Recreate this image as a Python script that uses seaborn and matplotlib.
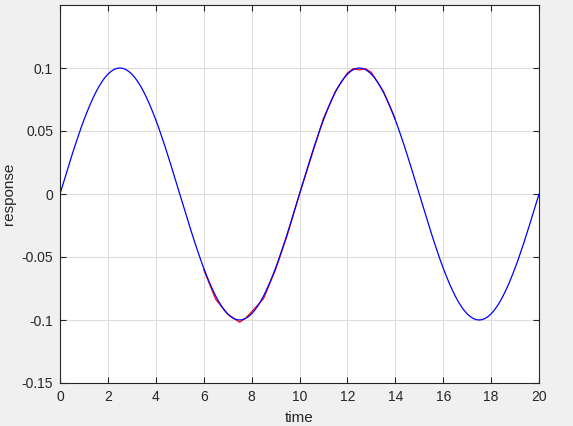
import matplotlib
matplotlib.use("Agg")
import matplotlib.pyplot as plt
import numpy as np
import pandas as pd
import seaborn as sns

# ── data ────────────────────────────────────────────────────────────────────
# blue trace, sampled every 0.125 time units from 0 to 20
t_fine = [i * 0.125 for i in range(161)]
y_blue = [
    # 0 .. 2.5
    0.0, 0.0078, 0.0156, 0.0233, 0.0309, 0.0383, 0.0454, 0.0523, 0.0588, 0.0649,
    0.0707, 0.0760, 0.0809, 0.0853, 0.0891, 0.0924, 0.0951, 0.0972, 0.0988, 0.0997,
    0.1,
    # 2.5 .. 5
    0.0997, 0.0988, 0.0972, 0.0951, 0.0924, 0.0891, 0.0853, 0.0809, 0.0760, 0.0707,
    0.0649, 0.0588, 0.0523, 0.0454, 0.0383, 0.0309, 0.0233, 0.0156, 0.0078, 0.0,
    # 5 .. 7.5
    -0.0078, -0.0156, -0.0233, -0.0309, -0.0383, -0.0454, -0.0523, -0.0588, -0.0649, -0.0707,
    -0.0760, -0.0809, -0.0853, -0.0891, -0.0924, -0.0951, -0.0972, -0.0988, -0.0997, -0.1,
    # 7.5 .. 10
    -0.0997, -0.0988, -0.0972, -0.0951, -0.0924, -0.0891, -0.0853, -0.0809, -0.0760, -0.0707,
    -0.0649, -0.0588, -0.0523, -0.0454, -0.0383, -0.0309, -0.0233, -0.0156, -0.0078, 0.0,
    # 10 .. 12.5
    0.0078, 0.0156, 0.0233, 0.0309, 0.0383, 0.0454, 0.0523, 0.0588, 0.0649, 0.0707,
    0.0760, 0.0809, 0.0853, 0.0891, 0.0924, 0.0951, 0.0972, 0.0988, 0.0997, 0.1,
    # 12.5 .. 15
    0.0997, 0.0988, 0.0972, 0.0951, 0.0924, 0.0891, 0.0853, 0.0809, 0.0760, 0.0707,
    0.0649, 0.0588, 0.0523, 0.0454, 0.0383, 0.0309, 0.0233, 0.0156, 0.0078, 0.0,
    # 15 .. 17.5
    -0.0078, -0.0156, -0.0233, -0.0309, -0.0383, -0.0454, -0.0523, -0.0588, -0.0649, -0.0707,
    -0.0760, -0.0809, -0.0853, -0.0891, -0.0924, -0.0951, -0.0972, -0.0988, -0.0997, -0.1,
    # 17.5 .. 20
    -0.0997, -0.0988, -0.0972, -0.0951, -0.0924, -0.0891, -0.0853, -0.0809, -0.0760, -0.0707,
    -0.0649, -0.0588, -0.0523, -0.0454, -0.0383, -0.0309, -0.0233, -0.0156, -0.0078, 0.0,
]

# red trace: only visible where it departs from the blue one (t = 6 .. 14)
t_red = [6.0, 6.5, 7.0, 7.25, 7.5, 7.75, 8.0, 8.5, 9.0, 9.5, 10.0,
         10.5, 11.0, 11.5, 12.0, 12.25, 12.5, 12.75, 13.0, 13.5, 14.0]
y_red = [-0.0600, -0.0835, -0.0955, -0.0985, -0.1018, -0.0985, -0.0935, -0.0830, -0.0600, -0.0320, 0.0,
         0.0300, 0.0600, 0.0815, 0.0960, 0.0995, 0.0985, 0.0995, 0.0965, 0.0815, 0.0595]

x_ticks = [0, 2, 4, 6, 8, 10, 12, 14, 16, 18, 20]
y_ticks = [-0.15, -0.1, -0.05, 0, 0.05, 0.1]
y_tick_labels = ["-0.15", "-0.1", "-0.05", "0", "0.05", "0.1"]

# ── plot ────────────────────────────────────────────────────────────────────
sns.set_style("white")
plt.rcParams["font.family"] = ["Liberation Sans", "DejaVu Sans"]

fig = plt.figure(figsize=(5.73, 4.26), dpi=100, facecolor="#f0f0f0")
ax = fig.add_axes([60 / 573, 43 / 426, 479 / 573, 378 / 426])
ax.set_facecolor("white")

sns.lineplot(x=t_red, y=y_red, color="red", linewidth=0.9, ax=ax)
sns.lineplot(x=t_fine, y=y_blue, color="blue", linewidth=0.9, ax=ax)

ax.set_xlim(0, 20)
ax.set_ylim(-0.15, 0.15)
ax.set_xticks(x_ticks)
ax.set_yticks(y_ticks)
ax.set_yticklabels(y_tick_labels)
ax.grid(True, color="#dcdcdc", linewidth=0.8)
ax.set_axisbelow(True)

for s in ax.spines.values():
    s.set_color("#262626")
    s.set_linewidth(0.8)
ax.tick_params(direction="in", length=4, width=0.8, colors="#262626",
               labelsize=10, top=True, right=True, pad=5,
               bottom=True, left=True)

ax.set_xlabel("time", fontsize=11, color="#262626", labelpad=5)
ax.set_ylabel("response", fontsize=11, color="#262626", labelpad=4)

plt.savefig("out.png", dpi=100, facecolor=fig.get_facecolor())
